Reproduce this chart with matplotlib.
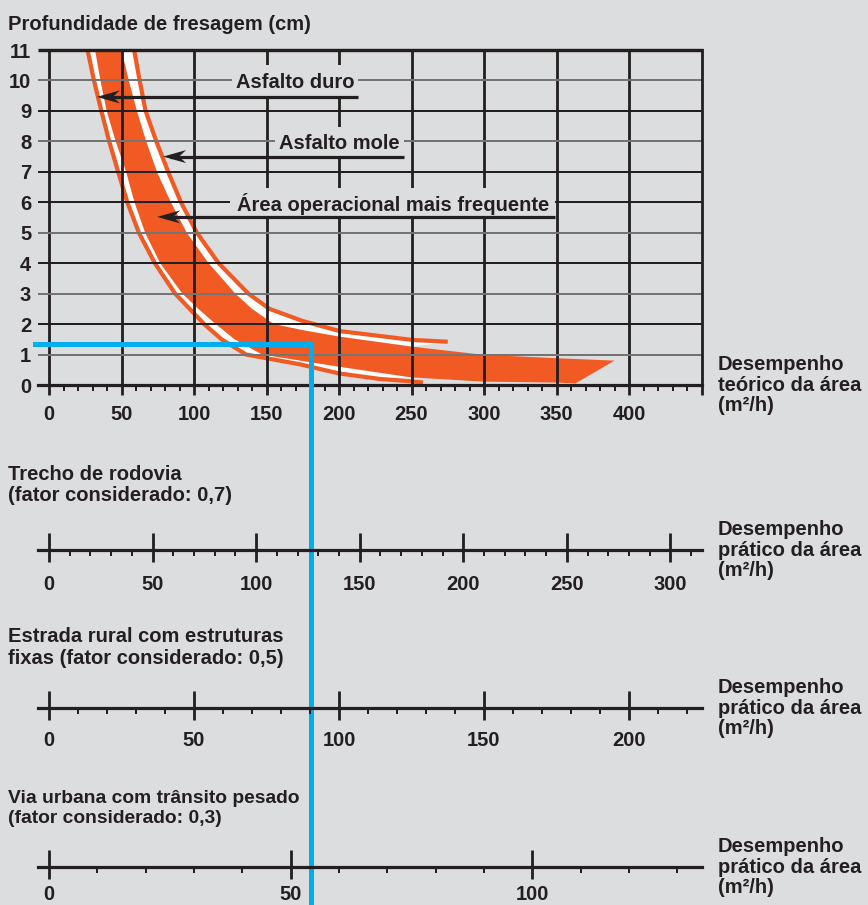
import matplotlib
matplotlib.use("Agg")
import matplotlib.pyplot as plt
from matplotlib.patches import Rectangle, Polygon
from matplotlib.transforms import ScaledTranslation
import numpy as np

# ---------------- data ----------------
y_title = "Profundidade de fresagem (cm)"
theory_label = "Desempenho\nteórico da área\n(m²/h)"
practice_label = "Desempenho\nprático da área\n(m²/h)"

depth_ticks = list(range(0, 12))
gray_depths = [1, 3, 5, 8, 10]
perf_ticks = [0, 50, 100, 150, 200, 250, 300, 350, 400]

# Asfalto duro (thin line, left/lower)
duro_x = [26.6, 31, 36.1, 41.5, 47.7, 54, 62, 73, 87, 97, 107, 119, 136, 173, 200, 228, 250, 258]
duro_y = [11, 10, 9, 8, 7, 6, 5, 4, 3, 2.5, 2, 1.5, 1, 0.68, 0.38, 0.2, 0.12, 0.08]
# Asfalto mole (thin line, right/upper)
mole_x = [58.7, 62.5, 66.6, 74, 82.2, 91, 102, 117, 137.5, 152, 175, 200.5, 250.5, 275]
mole_y = [11, 10, 9, 8, 7, 6, 5, 4, 3, 2.5, 2.1, 1.77, 1.48, 1.42]
# Área operacional mais frequente (band)
band_low_x = [31.8, 35.5, 39.8, 46, 53.2, 59, 66.3, 76.7, 92, 103, 115, 128, 147, 200, 250, 300, 350, 363]
band_low_y = [11, 10, 9, 8, 7, 6, 5, 4, 3, 2.5, 2, 1.5, 1, 0.6, 0.25, 0.11, 0.08, 0.05]
band_up_x = [50, 55, 60.6, 67, 74.4, 84, 95, 110, 128.5, 140, 155, 175, 200, 250, 300, 350, 390]
band_up_y = [11, 10, 9, 8, 7, 6, 5, 4, 3, 2.5, 2, 1.8, 1.59, 1.26, 0.99, 0.88, 0.8]

labels = ["Asfalto duro", "Asfalto mole", "Área operacional mais frequente"]

section_titles = ["Trecho de rodovia\n(fator considerado: 0,7)",
                  "Estrada rural com estruturas\nfixas (fator considerado: 0,5)",
                  "Via urbana com trânsito pesado\n(fator considerado: 0,3)"]
section_factors = [0.7, 0.5, 0.3]
section_ticks = [[0, 50, 100, 150, 200, 250, 300],
                 [0, 50, 100, 150, 200],
                 [0, 50, 100]]

example_perf = 181
example_depth = 1.35

# ---------------- style / layout ----------------
W, H, DPI = 868, 905, 100
BG = "#dcdddf"
ORANGE = "#f15a22"
BLUE = "#00aeef"
INK = "#231f20"
GRID_GRAY = "#747474"
FS = 14.5
FW = "bold"
plt.rcParams["font.family"] = ["Liberation Sans", "DejaVu Sans"]
plt.rcParams["font.size"] = FS
plt.rcParams["font.weight"] = FW
PT = 72.0 / DPI  # points per pixel

X0PX, PXU = 49.0, 1.45       # pixel of x=0 and pixels per m2/h
XL, XR = -7.5, 450.0
Y0PX, Y11PX = 385.0, 50.0

label_pos = [  # (center y, arrow y, arrow tip x, box x0, box x1)
    (10, 9.46, 33, 126, 213),
    (8, 7.50, 78.7, 156, 244.5),
    (6, 5.52, 74.6, 125, 349),
]
section_line_px = [550, 708, 867]
section_title_px = [485, 647.5, 808.5]
section_title_fs = [14.5, 14.5, 13.9]
section_title_ls = [1.15, 1.15, 1.3]
section_pad = [9, 8, 4.5]

fig = plt.figure(figsize=(W / DPI, H / DPI), dpi=DPI, facecolor=BG)


def fx(px):
    return px / W


def fy(py):
    return 1 - py / H


axl_px = X0PX + XL * PXU
axr_px = X0PX + XR * PXU
ax = fig.add_axes([fx(axl_px), fy(Y0PX), (axr_px - axl_px) / W, (Y0PX - Y11PX) / H])
ax.set_facecolor(BG)
ax.set_xlim(XL, XR)
ax.set_ylim(0, 11)
for s in ["left", "top"]:
    ax.spines[s].set_visible(False)
ax.spines["bottom"].set_linewidth(3.2 * PT)
ax.spines["bottom"].set_color(INK)
ax.spines["right"].set_linewidth(2.8 * PT)
ax.spines["right"].set_color(INK)

# curves (under grid)
nlow = sum(1 for x in band_low_x if x <= 252)
poly_duro = np.column_stack([duro_x + band_low_x[:nlow][::-1], duro_y + band_low_y[:nlow][::-1]])
ax.add_patch(Polygon(poly_duro, closed=True, facecolor="white", edgecolor="none", zorder=1))
nup = sum(1 for x in band_up_x if x <= 276)
poly_mole = np.column_stack([mole_x + band_up_x[:nup][::-1], mole_y + band_up_y[:nup][::-1]])
ax.add_patch(Polygon(poly_mole, closed=True, facecolor="white", edgecolor="none", zorder=1))
poly_band = np.column_stack([band_low_x + band_up_x[::-1], band_low_y + band_up_y[::-1]])
ax.add_patch(Polygon(poly_band, closed=True, facecolor=ORANGE, edgecolor="none", zorder=1.2))
ax.plot(duro_x, duro_y, color=ORANGE, lw=4.2 * PT, solid_capstyle="butt",
        solid_joinstyle="round", zorder=1.3)
ax.plot(mole_x, mole_y, color=ORANGE, lw=4.2 * PT, solid_capstyle="butt",
        solid_joinstyle="round", zorder=1.3)

# grid
ax.vlines(perf_ticks, 0, 11, color=INK, lw=2.8 * PT, zorder=2)
for d in depth_ticks[1:11]:
    c = GRID_GRAY if d in gray_depths else INK
    ax.hlines(d, XL, XR, color=c, lw=2.0 * PT, zorder=2)
ax.hlines(11, XL, XR + 0.7, color=INK, lw=3.4 * PT, zorder=2.1, clip_on=False)

# ticks
ax.set_xticks(perf_ticks + [450])
ax.set_xticklabels([str(v) for v in perf_ticks] + [""])
ax.set_xticks(list(range(0, 450, 10)), minor=True)
ax.tick_params(axis="x", which="major", direction="out", length=10 * PT, width=2.8 * PT,
               color=INK, pad=7, labelcolor=INK, labelsize=FS)
ax.tick_params(axis="x", which="minor", direction="out", length=6 * PT, width=2.0 * PT, color=INK)
ax.set_yticks(depth_ticks)
ax.tick_params(axis="y", which="major", length=0, pad=5, labelcolor=INK, labelsize=FS)

# labels with boxes and notched arrows
HL, HW, HN = 0.23, 0.13, 0.16   # arrow head length, width, notch depth (inches)
for txt, (cy, ay, tip, bx0, bx1) in zip(labels, label_pos):
    ax.add_patch(Rectangle((bx0, ay), bx1 - bx0, (cy - ay) * 2 - 0.02, facecolor=BG,
                           edgecolor="none", zorder=3))
    ax.text((bx0 + bx1) / 2, cy, txt, ha="center", va="center_baseline", color=INK,
            fontsize=FS, zorder=4)
    ax.plot([tip + 5, bx1], [ay, ay], color=INK, lw=3.2 * PT, solid_capstyle="butt", zorder=4)
    head_tr = fig.dpi_scale_trans + ScaledTranslation(tip, ay, ax.transData)
    ax.add_patch(Polygon([(0, 0), (HL, HW / 2), (HN, 0), (HL, -HW / 2)], closed=True,
                         facecolor=INK, edgecolor="none", transform=head_tr, zorder=4.5))

# blue example line
ax.plot([XL - 2.2, example_perf, example_perf],
        [example_depth, example_depth, (Y0PX - H - 5) / (Y0PX - Y11PX) * 11],
        color=BLUE, lw=5 * PT, clip_on=False, zorder=6, solid_joinstyle="miter")

# texts
fig.text(fx(8), fy(30), y_title, ha="left", va="baseline", color=INK, fontsize=FS)
fig.text(fx(718), fy(Y0PX), theory_label, ha="left", va="center", color=INK, fontsize=FS,
         linespacing=1.12)

# practical axes
for title, f, ticks, lpx, tpx, tfs, tls, pad in zip(section_titles, section_factors,
                                                      section_ticks, section_line_px,
                                                      section_title_px, section_title_fs,
                                                      section_title_ls, section_pad):
    sax = fig.add_axes([fx(axl_px), fy(lpx + 20), (axr_px - axl_px) / W, 40 / H])
    sax.patch.set_visible(False)
    sax.set_xlim(XL * f, XR * f)
    sax.set_ylim(-20, 20)
    for s in ["left", "top", "right"]:
        sax.spines[s].set_visible(False)
    sax.spines["bottom"].set_position(("data", 0))
    sax.spines["bottom"].set_linewidth(3.2 * PT)
    sax.spines["bottom"].set_color(INK)
    sax.set_yticks([])
    sax.set_xticks(ticks)
    sax.set_xticklabels([str(t) for t in ticks])
    sax.set_xticks(list(range(0, int(XR * f) - 3, 10)), minor=True)
    sax.tick_params(axis="x", which="major", direction="out", length=12 * PT, width=2.8 * PT,
                    color=INK, pad=pad, labelcolor=INK, labelsize=FS)
    sax.tick_params(axis="x", which="minor", direction="out", length=6 * PT, width=2.0 * PT,
                    color=INK)
    sax.vlines(ticks, 0, 17, color=INK, lw=2.8 * PT)
    fig.text(fx(8), fy(tpx), title, ha="left", va="center", color=INK, fontsize=tfs,
             linespacing=tls)
    fig.text(fx(718), fy(lpx), practice_label, ha="left", va="center", color=INK, fontsize=FS,
             linespacing=1.12)

fig.savefig("out.png", dpi=DPI, facecolor=BG)
